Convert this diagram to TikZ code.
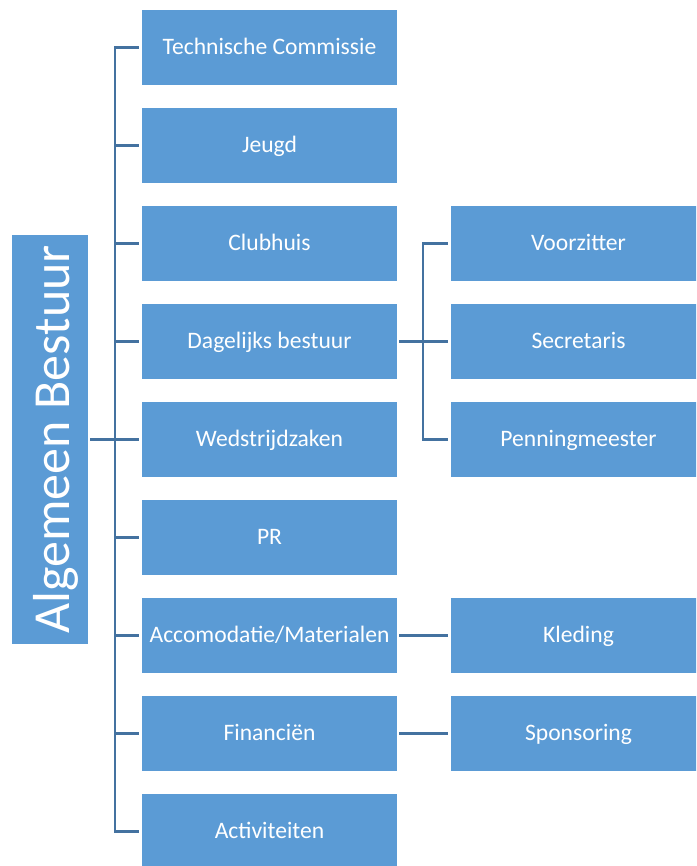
\documentclass[tikz,border=0pt]{standalone}
\usepackage{fontspec}
\setmainfont{Carlito}
\definecolor{boxblue}{RGB}{91,155,213}
\definecolor{lineblue}{RGB}{68,114,160}
\begin{document}
\begin{tikzpicture}[x=1pt,y=-1pt,
  box/.style={fill=boxblue, draw=none, minimum width=255pt, minimum height=75pt, inner sep=0pt,
    text=white, font=\fontsize{23.6}{28}\selectfont, text height=14pt, text depth=0pt},
  conn/.style={draw=lineblue, line width=2.6pt},
]
\useasboundingbox (0,0) rectangle (696,866);
\clip (0,0) rectangle (696,866);
% left box
\node[fill=boxblue, minimum width=76pt, minimum height=409pt, inner sep=0pt] (ab) at (50,439.5) {};
\node[rotate=90, text=white, font=\fontsize{52}{60}\selectfont, inner sep=0pt, text height=38pt, text depth=0pt] (abt) at (ab.center) {Algemeen Bestuur};
% middle column
\node[box] (tc) at (269.5,47.5) {Technische Commissie};
\node[box] (je) at (269.5,145.5) {Jeugd};
\node[box] (cl) at (269.5,243.5) {Clubhuis};
\node[box] (db) at (269.5,341.5) {Dagelijks bestuur};
\node[box] (wz) at (269.5,439.5) {Wedstrijdzaken};
\node[box] (pr) at (269.5,537.5) {PR};
\node[box] (am) at (269.5,635.5) {Accomodatie/Materialen};
\node[box] (fi) at (269.5,733.5) {Financiën};
\node[box] (ac) at (269.5,831.5) {Activiteiten};
% right column
\node[box] (vz) at (578.5,243.5) {Voorzitter};
\node[box] (se) at (578.5,341.5) {Secretaris};
\node[box] (pm) at (578.5,439.5) {Penningmeester};
\node[box] (kl) at (578.5,635.5) {Kleding};
\node[box] (sp) at (578.5,733.5) {Sponsoring};
% connectors: spine
\draw[conn] ([xshift=-3pt]tc.west) -- ([xshift=-27pt]tc.west) -- ([xshift=-27pt]ac.west) -- ([xshift=-3pt]ac.west);
\foreach \n in {je,cl,db,wz,pr,am,fi}
  \draw[conn] ([xshift=-3pt]\n.west) -- ([xshift=-27pt]\n.west);
\draw[conn] ([xshift=2pt]ab.east) -- ([xshift=-27pt]wz.west);
% dagelijks bestuur
\draw[conn] ([xshift=2pt]db.east) -- ([xshift=-28pt]se.west);
\draw[conn] ([xshift=-3pt]vz.west) -- ([xshift=-28pt]vz.west) -- ([xshift=-28pt]pm.west) -- ([xshift=-3pt]pm.west);
\draw[conn] ([xshift=-3pt]se.west) -- ([xshift=-28pt]se.west);
% single links
\draw[conn] ([xshift=2pt]am.east) -- ([xshift=-3pt]kl.west);
\draw[conn] ([xshift=2pt]fi.east) -- ([xshift=-3pt]sp.west);
\end{tikzpicture}
\end{document}
